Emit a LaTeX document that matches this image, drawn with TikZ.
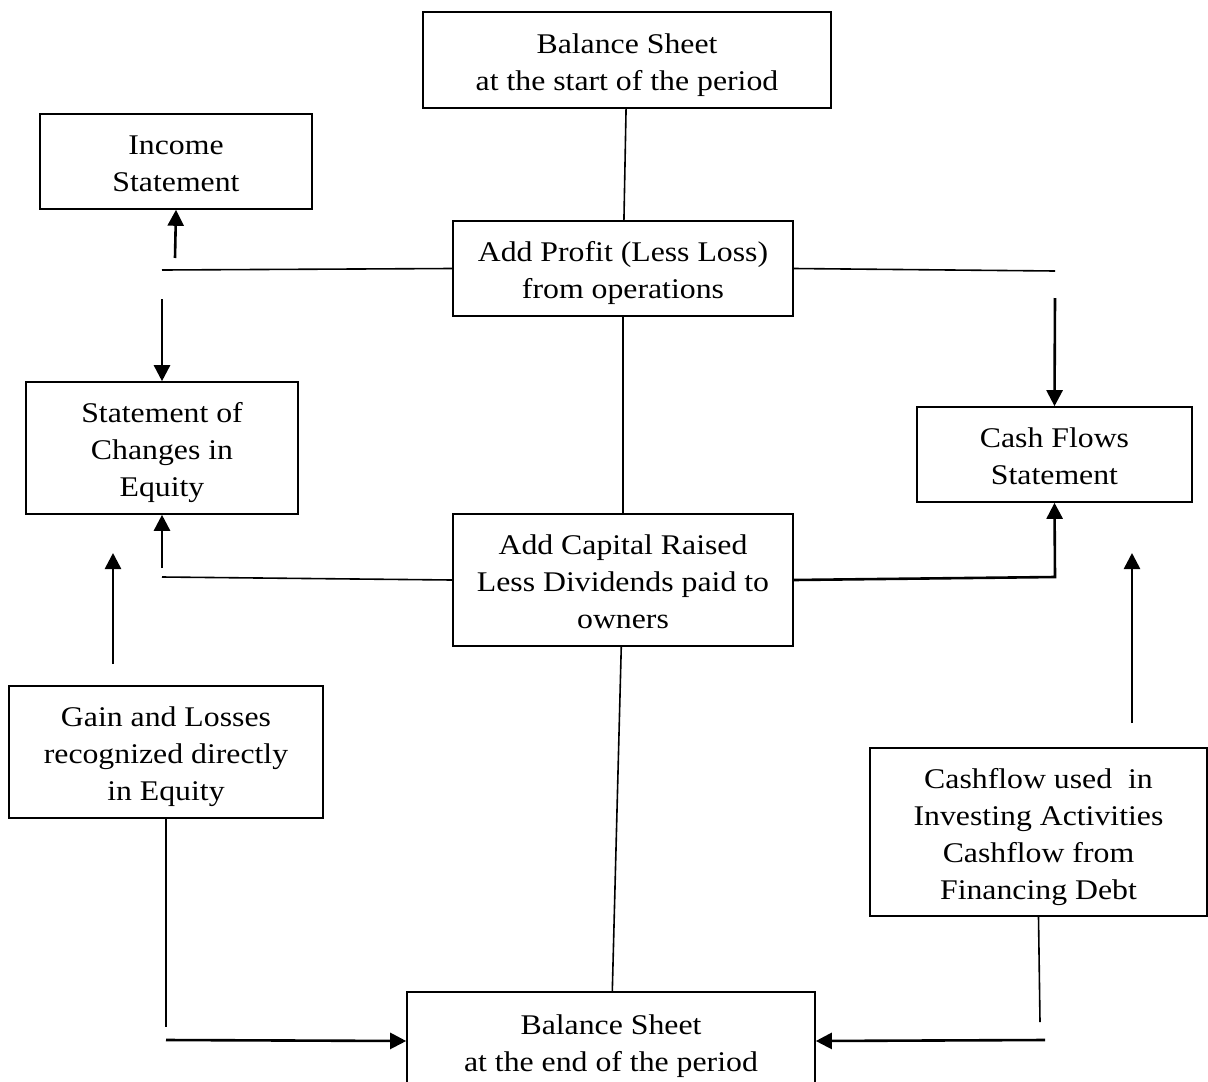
\documentclass[tikz,border=0pt]{standalone}
\usepackage{fontspec}
\setmainfont{Liberation Serif}[FakeStretch=1.115]
\usetikzlibrary{arrows.meta}

% lines of a box, set a little below the middle as in the drawing
\newcommand{\sheetlines}[1]{\raisebox{-4.5pt}[\height][\depth]{\begin{tabular}{@{}c@{}}#1\end{tabular}}}

\begin{document}
\begin{tikzpicture}[x=1pt, y=-1pt]
    % Define the styles for the boxes and the connectors
    \tikzstyle{sheet} = [rectangle, draw, line width=1.6pt, inner sep=0pt, font=\fontsize{28.5}{37}\selectfont]
    \tikzstyle{link} = [line width=1.6pt]
    \tikzstyle{flow} = [line width=2.6pt, -{Triangle[length=16pt, width=16pt]}]

    \useasboundingbox (0,0) rectangle (1208,1082);

    % Create the nodes for each statement
    \node [sheet, minimum width=408pt, minimum height=96pt] (bsstart) at (627,60) {\sheetlines{Balance Sheet\\at the start of the period}};
    \node [sheet, minimum width=272pt, minimum height=95pt] (income) at (176,161.5) {\sheetlines{Income\\Statement}};
    \node [sheet, minimum width=340pt, minimum height=95pt] (profit) at (623,268.5) {\sheetlines{Add Profit (Less Loss)\\from operations}};
    \node [sheet, minimum width=272pt, minimum height=132pt] (equity) at (162,448) {\sheetlines{Statement of\\Changes in\\Equity}};
    \node [sheet, minimum width=275pt, minimum height=95pt] (cashflows) at (1054.5,454.5) {\sheetlines{Cash Flows\\Statement}};
    \node [sheet, minimum width=340pt, minimum height=132pt] (capital) at (623,580) {\sheetlines{Add Capital Raised\\Less Dividends paid to\\owners}};
    \node [sheet, minimum width=314pt, minimum height=132pt] (gains) at (166,752) {\sheetlines{Gain and Losses\\recognized directly\\in Equity}};
    \node [sheet, minimum width=337pt, minimum height=168pt] (investing) at (1038.5,832) {\sheetlines{Cashflow used~ in\\Investing Activities\\Cashflow from\\Financing Debt}};
    \node [sheet, minimum width=408pt, minimum height=98pt] (bsend) at (611,1041) {\sheetlines{Balance Sheet\\at the end of the period}};

    % Free ends of the connectors
    \coordinate (profitleft) at (162,270);
    \coordinate (incomefoot) at (175,258);
    \coordinate (equitytop) at (162,299);
    \coordinate (profitright) at (1055,271);
    \coordinate (cashtop) at (1055,298);
    \coordinate (capitalleft) at (162,577);
    \coordinate (equityfoot) at (162,568);
    \coordinate (cashcorner) at (1055,577);
    \coordinate (gainsup) at (113,664);
    \coordinate (gainstip) at (113,553);
    \coordinate (investup) at (1132,723);
    \coordinate (investtip) at (1132,553);
    \coordinate (gainsdown) at (166,1027);
    \coordinate (gainsleft) at (166,1040);
    \coordinate (investdown) at (1040,1022);
    \coordinate (investright) at (1045,1040);

    % Draw the lines between the nodes
    \draw [link] (bsstart) -- (profit);
    \draw [link] (profit) -- (capital);
    \draw [link] (capital) -- (bsend);
    \draw [link] (profit.west) -- (profitleft);
    \draw [link] (profit.east) -- (profitright);
    \draw [link] (capital.west) -- (capitalleft);
    \draw [link] (gains.south) -- (gainsdown);
    \draw [link] (investing.south) -- (investdown);

    % Draw the arrows
    \draw [flow] (incomefoot) -- (income.south);
    \draw [flow] (equitytop) -- (equity.north);
    \draw [flow] (cashtop) -- (cashflows.north);
    \draw [flow] (equityfoot) -- (equity.south);
    \draw [flow] (capital.east) -- (cashcorner) -- (cashflows.south);
    \draw [flow] (gainsup) -- (gainstip);
    \draw [flow] (investup) -- (investtip);
    \draw [flow] (gainsleft) -- (bsend.west);
    \draw [flow] (investright) -- (bsend.east);
\end{tikzpicture}
\end{document}
